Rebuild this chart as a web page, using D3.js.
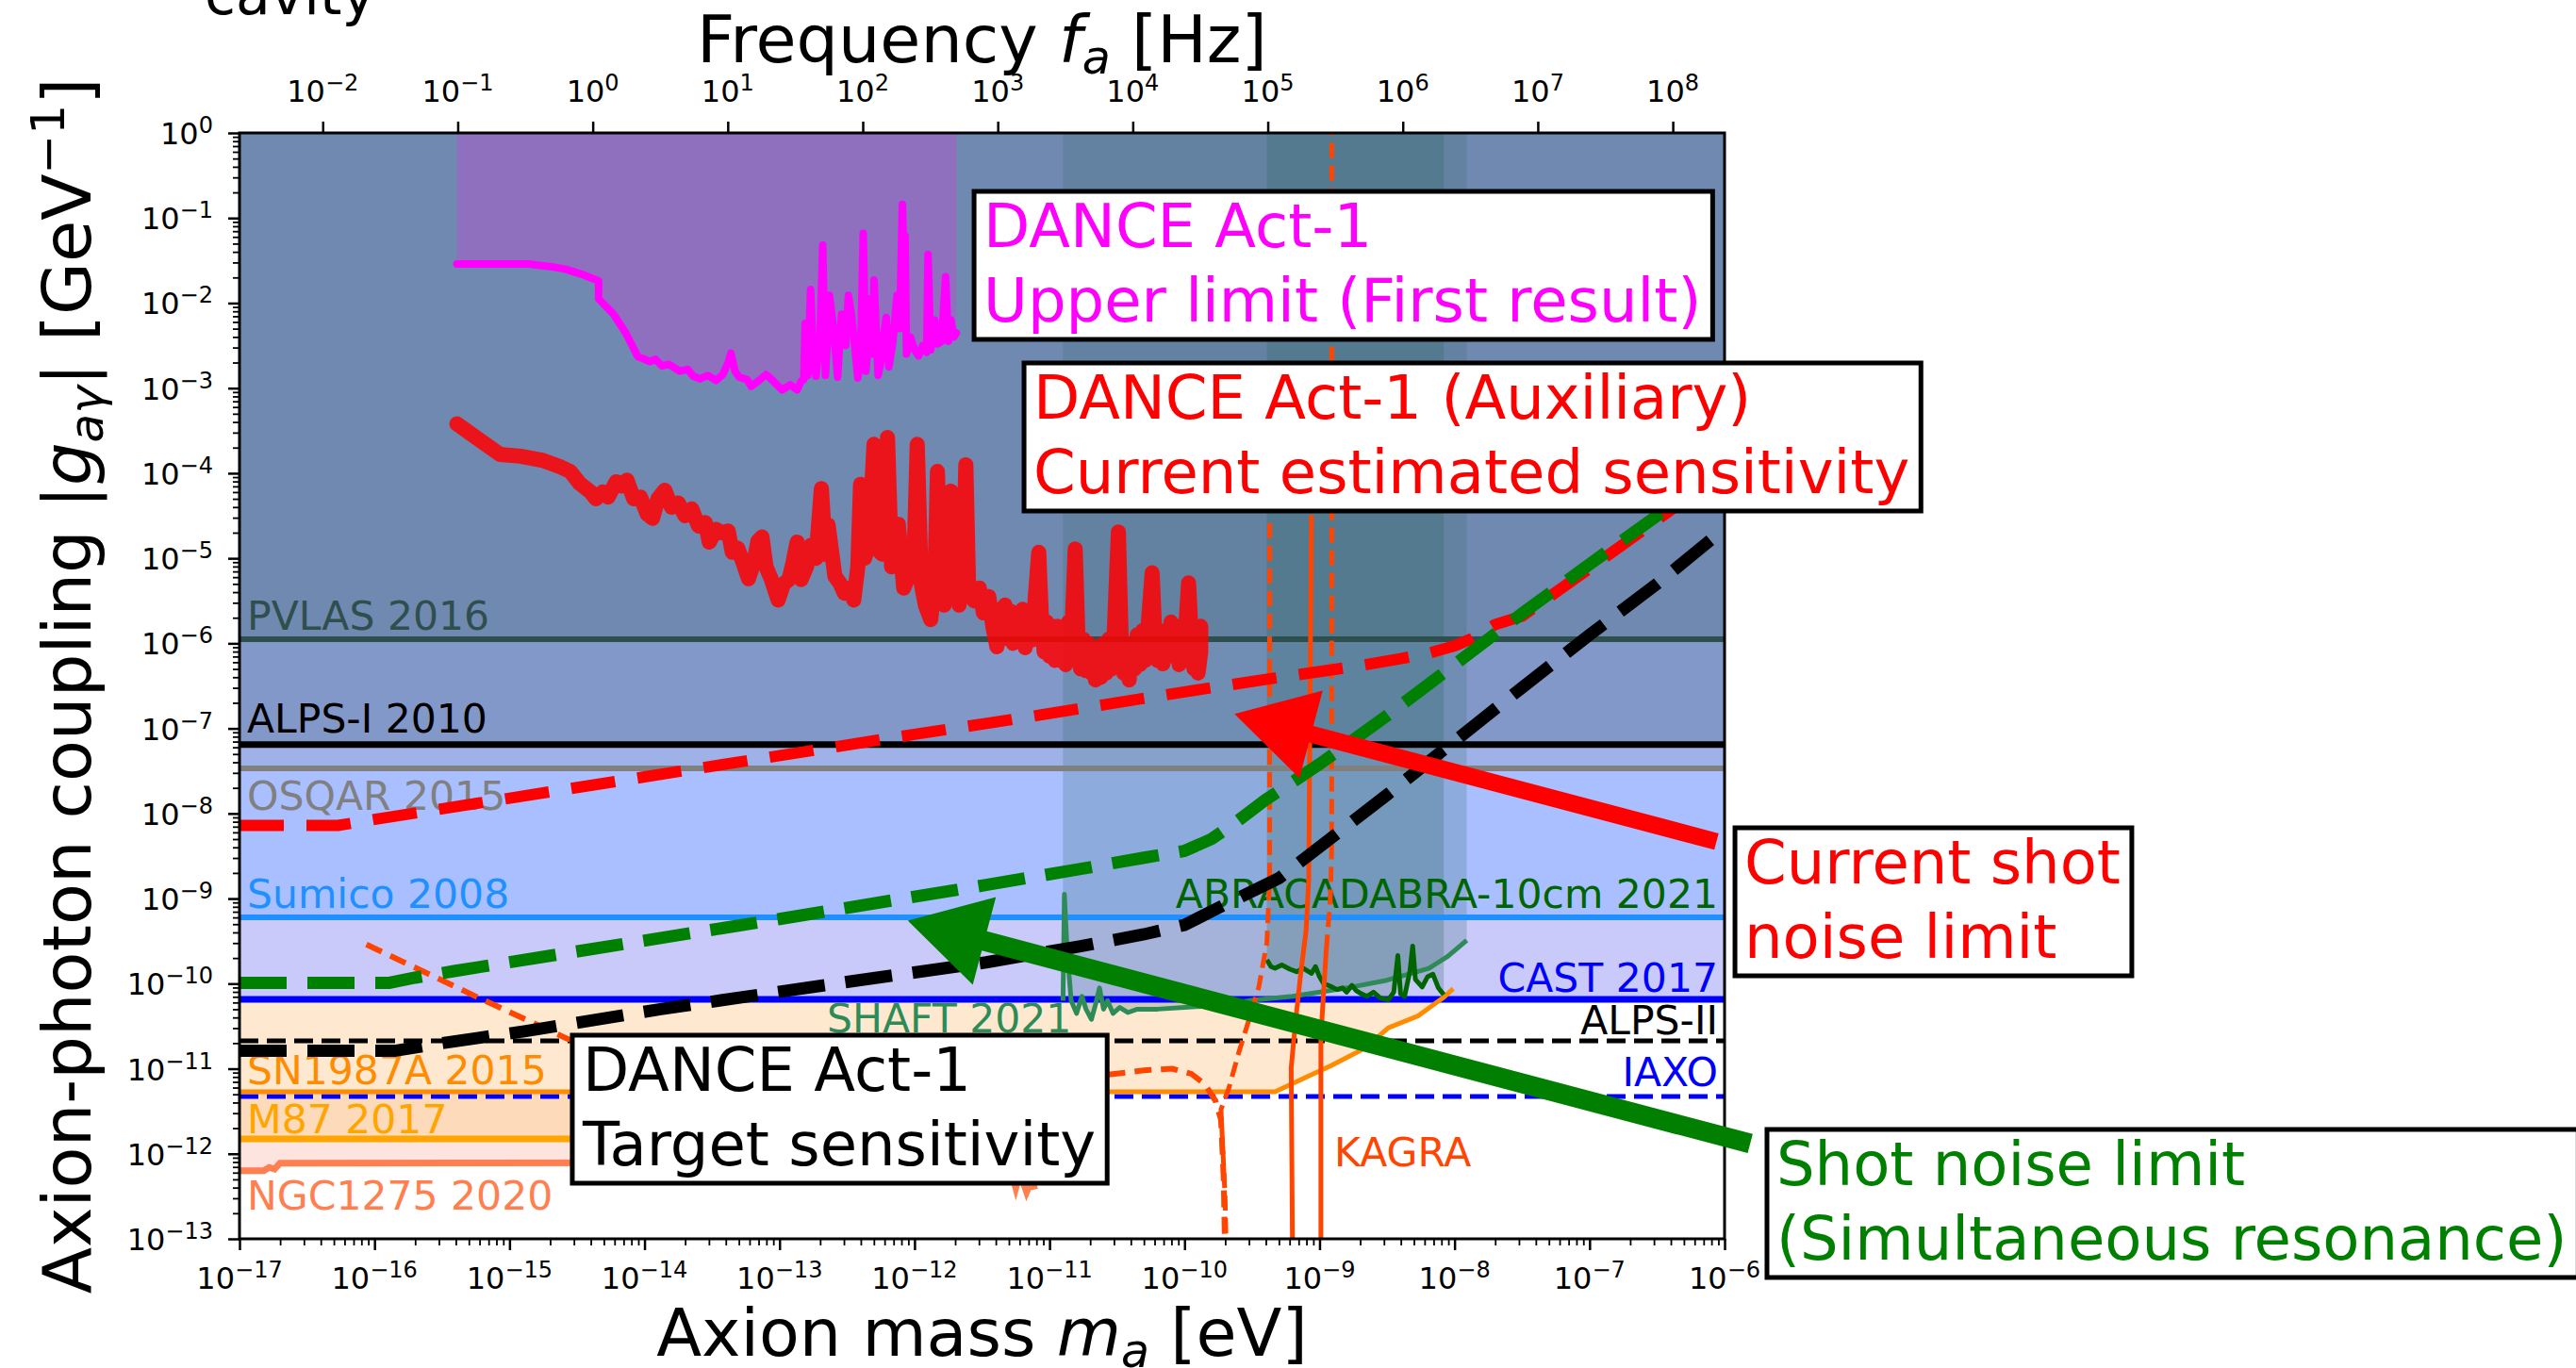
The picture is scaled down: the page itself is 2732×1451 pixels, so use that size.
<!DOCTYPE html>
<html>
<head>
<meta charset="utf-8">
<script src="https://d3js.org/d3.v7.min.js"></script>
<style>
  body { margin: 0; background: #fff; }
  text { font-family: "DejaVu Sans", sans-serif; }
</style>
</head>
<body>
<script>
// ---------- data: every pair is [log10 mass (eV), log10 coupling (GeV^-1)] ----------
var massTickExp = [-17, -16, -15, -14, -13, -12, -11, -10, -9, -8, -7, -6];
var couplingTickExp = [0, -1, -2, -3, -4, -5, -6, -7, -8, -9, -10, -11, -12, -13];
var freqTickExp = [-2, -1, 0, 1, 2, 3, 4, 5, 6, 7, 8];
var log10HzPerEv = 14.3835;

// horizontal limits
var limitNames = ["PVLAS 2016", "ALPS-I 2010", "OSQAR 2015", "Sumico 2008", "CAST 2017", "ALPS-II", "IAXO", "M87 2017"];
var limitValues = [-5.951, -7.19, -7.47, -9.22, -10.185, -10.673, -11.327, -11.825];
var limitMassEnd = [-6, -6, -6, -6, -6, -6, -6, -11.3];

// stacked exclusion bands (top edge .. bottom edge)
var bandEdges = [0, -5.951, -7.19, -7.47, -9.22, -10.185];

var sn1987a = [[-17, -11.27], [-9.33, -11.27], [-9.14, -11.13], [-8.91, -10.96], [-8.69, -10.78], [-8.57, -10.63],
  [-8.49, -10.52], [-8.27, -10.38], [-8.08, -10.16], [-8.01, -10.06]];
var ngc1275 = [[-17, -12.20], [-16.82, -12.20], [-16.78, -12.16], [-16.74, -12.18], [-16.70, -12.11], [-11.30, -12.10],
  [-11.25, -12.40], [-11.22, -12.22], [-11.17, -12.45], [-11.13, -12.30], [-11.11, -12.42]];

var danceUpper = [[-15.39, -1.54], [-15.0, -1.54], [-14.86, -1.54], [-14.70, -1.57], [-14.59, -1.60], [-14.45, -1.67],
  [-14.34, -1.74], [-14.34, -1.95], [-14.23, -2.13], [-14.14, -2.35], [-14.05, -2.63], [-14.00, -2.66], [-13.96, -2.69],
  [-13.92, -2.66], [-13.87, -2.74], [-13.82, -2.72], [-13.74, -2.80], [-13.68, -2.78], [-13.64, -2.86], [-13.59, -2.89],
  [-13.53, -2.85], [-13.47, -2.91], [-13.42, -2.84], [-13.38, -2.70], [-13.36, -2.59], [-13.33, -2.80], [-13.30, -2.87],
  [-13.24, -2.90], [-13.21, -2.98], [-13.16, -2.92], [-13.10, -2.84], [-13.07, -2.88], [-13.02, -2.96], [-12.98, -3.02],
  [-12.92, -2.96], [-12.87, -3.02], [-12.84, -2.92], [-12.82, -2.90], [-12.81, -2.24], [-12.79, -2.85], [-12.77, -1.84],
  [-12.75, -2.60], [-12.73, -2.86], [-12.70, -2.40], [-12.68, -1.32], [-12.66, -2.85], [-12.64, -2.30], [-12.63, -1.91],
  [-12.60, -2.30], [-12.57, -2.87], [-12.54, -2.13], [-12.51, -2.50], [-12.49, -1.91], [-12.47, -2.10], [-12.45, -2.40],
  [-12.42, -2.88], [-12.40, -2.70], [-12.38, -1.18], [-12.36, -2.80], [-12.34, -2.40], [-12.33, -1.95], [-12.31, -2.60],
  [-12.30, -1.73], [-12.27, -2.85], [-12.25, -2.70], [-12.23, -2.40], [-12.21, -2.17], [-12.19, -2.75], [-12.16, -2.45],
  [-12.13, -1.91], [-12.11, -2.30], [-12.09, -0.84], [-12.08, -1.40], [-12.07, -1.21], [-12.06, -2.60], [-12.03, -2.40],
  [-12.00, -2.55], [-11.97, -2.62], [-11.94, -2.50], [-11.91, -2.58], [-11.90, -1.43], [-11.88, -2.55], [-11.85, -2.20],
  [-11.83, -2.48], [-11.80, -2.45], [-11.77, -1.69], [-11.75, -2.45], [-11.73, -2.20], [-11.71, -2.40], [-11.69, -2.35]];

var danceAux = [[-15.39, -3.42], [-15.07, -3.78], [-14.92, -3.80], [-14.75, -3.85], [-14.63, -3.92], [-14.55, -3.98],
  [-14.48, -4.12], [-14.40, -4.22], [-14.36, -4.30], [-14.31, -4.22], [-14.27, -4.28], [-14.21, -4.10], [-14.17, -4.15],
  [-14.13, -4.08], [-14.08, -4.30], [-14.03, -4.28], [-13.98, -4.48], [-13.94, -4.53], [-13.90, -4.30], [-13.85, -4.20],
  [-13.80, -4.40], [-13.75, -4.35], [-13.70, -4.50], [-13.65, -4.42], [-13.60, -4.62], [-13.55, -4.58], [-13.52, -4.81],
  [-13.47, -4.66], [-13.43, -4.70], [-13.38, -4.68], [-13.35, -4.93], [-13.31, -4.88], [-13.27, -5.05], [-13.23, -5.24],
  [-13.19, -5.05], [-13.16, -4.80], [-13.13, -4.75], [-13.10, -5.10], [-13.06, -5.25], [-13.01, -5.49], [-12.97, -5.30],
  [-12.93, -5.25], [-12.90, -5.05], [-12.87, -4.81], [-12.84, -5.25], [-12.80, -5.10], [-12.77, -4.85], [-12.73, -5.00],
  [-12.69, -4.18], [-12.66, -4.95], [-12.64, -4.61], [-12.59, -5.21], [-12.55, -5.30], [-12.52, -5.41], [-12.48, -5.35],
  [-12.45, -5.49], [-12.42, -5.10], [-12.40, -4.13], [-12.37, -5.00], [-12.34, -4.85], [-12.30, -3.66], [-12.27, -4.90],
  [-12.24, -4.95], [-12.20, -3.58], [-12.17, -5.10], [-12.12, -4.60], [-12.08, -5.35], [-12.04, -5.20], [-12.00, -4.80],
  [-11.98, -3.66], [-11.95, -5.30], [-11.92, -5.55], [-11.88, -5.72], [-11.85, -5.30], [-11.83, -3.98], [-11.81, -5.20],
  [-11.78, -5.55], [-11.75, -5.10], [-11.73, -4.21], [-11.70, -5.30], [-11.67, -5.55], [-11.64, -5.20], [-11.62, -3.90],
  [-11.60, -5.30], [-11.56, -5.50], [-11.52, -5.35], [-11.49, -5.64], [-11.45, -5.45], [-11.42, -5.80], [-11.39, -6.04],
  [-11.37, -5.60], [-11.35, -5.95], [-11.33, -5.55], [-11.31, -5.90], [-11.29, -5.62], [-11.27, -6.00], [-11.25, -5.65],
  [-11.22, -5.95], [-11.20, -5.60], [-11.18, -6.05], [-11.15, -5.70], [-11.13, -5.96], [-11.11, -5.55], [-11.08, -4.93],
  [-11.06, -5.70], [-11.04, -6.10], [-11.02, -5.75], [-11.00, -6.15], [-10.98, -5.80], [-10.96, -6.20], [-10.94, -5.80],
  [-10.92, -6.20], [-10.90, -5.85], [-10.88, -6.25], [-10.86, -5.75], [-10.84, -6.10], [-10.81, -4.89], [-10.79, -5.90],
  [-10.77, -6.30], [-10.75, -5.95], [-10.73, -6.32], [-10.71, -6.00], [-10.69, -6.35], [-10.67, -6.05], [-10.66, -6.43],
  [-10.64, -6.05], [-10.62, -6.40], [-10.60, -6.00], [-10.58, -6.35], [-10.56, -5.95], [-10.54, -6.30], [-10.52, -5.85],
  [-10.49, -4.69], [-10.47, -5.90], [-10.45, -6.35], [-10.43, -6.00], [-10.41, -6.43], [-10.39, -6.00], [-10.37, -6.30],
  [-10.35, -5.90], [-10.33, -6.25], [-10.31, -5.85], [-10.29, -6.20], [-10.27, -5.80], [-10.24, -5.17], [-10.22, -5.90],
  [-10.20, -6.20], [-10.18, -5.85], [-10.16, -6.24], [-10.14, -5.85], [-10.12, -6.15], [-10.10, -5.75], [-10.08, -6.10],
  [-10.06, -5.80], [-10.04, -6.25], [-10.02, -5.85], [-10.00, -6.20], [-9.99, -5.80], [-9.97, -5.29], [-9.95, -5.95],
  [-9.93, -6.30], [-9.91, -5.90], [-9.90, -6.35], [-9.88, -6.10], [-9.88, -5.80]];

var shotCurrent = [[-17, -8.14], [-16.27, -8.14], [-16.0, -8.07], [-14, -7.57], [-12, -7.07], [-11.30, -6.90], [-10, -6.57],
  [-9.30, -6.40], [-8.73, -6.27], [-8.40, -6.18], [-8.20, -6.12], [-8.0, -6.03], [-7.88, -5.95], [-7.7, -5.78],
  [-7.5, -5.68], [-7.0, -5.12], [-6.5, -4.55], [-6.2, -4.20]];
var shotSimultaneous = [[-17, -9.99], [-15.89, -9.99], [-15.7, -9.93], [-15.4, -9.85], [-13, -9.24], [-11.47, -8.84],
  [-10.8, -8.66], [-10.3, -8.52], [-10.0, -8.44], [-9.8, -8.30], [-9.6, -8.08], [-9.4, -7.84], [-9.0, -7.42], [-8.5, -6.85],
  [-8.0, -6.25], [-7.5, -5.65], [-7.0, -5.07], [-6.5, -4.50], [-6.2, -4.15]];
var targetSens = [[-17, -10.79], [-15.85, -10.79], [-15.5, -10.70], [-14.89, -10.56], [-13.88, -10.30], [-12.5, -9.98],
  [-11.47, -9.75], [-10.77, -9.56], [-10.3, -9.42], [-10.0, -9.31], [-9.7, -9.07], [-9.3, -8.76], [-8.5, -7.78],
  [-8.0, -7.15], [-7.5, -6.52], [-7.0, -5.90], [-6.5, -5.30], [-6.0, -4.65]];

var shaft = [[-10.90, -10.2], [-10.89, -8.95], [-10.87, -9.6], [-10.84, -10.2], [-10.80, -10.35], [-10.76, -10.15],
  [-10.73, -10.30], [-10.69, -10.42], [-10.66, -10.25], [-10.63, -10.05], [-10.60, -10.30], [-10.57, -10.20],
  [-10.53, -10.35], [-10.48, -10.28], [-10.42, -10.34], [-10.35, -10.30], [-10.2, -10.30], [-10.0, -10.28],
  [-9.8, -10.26], [-9.52, -10.20], [-9.2, -10.15], [-8.76, -10.04], [-8.5, -9.96], [-8.19, -9.82], [-8.05, -9.68], [-7.91, -9.49]];
var abracadabra = [[-9.39, -9.72], [-9.36, -9.80], [-9.33, -9.82], [-9.28, -9.78], [-9.22, -9.83], [-9.17, -9.86],
  [-9.12, -9.82], [-9.06, -9.88], [-9.03, -9.80], [-9.00, -9.92], [-8.97, -10.0], [-8.92, -10.03], [-8.87, -10.07],
  [-8.83, -10.05], [-8.80, -10.10], [-8.76, -10.02], [-8.73, -10.08], [-8.69, -10.12], [-8.65, -10.15], [-8.60, -10.10],
  [-8.55, -10.17], [-8.49, -10.19], [-8.45, -10.10], [-8.42, -9.67], [-8.40, -10.12], [-8.37, -10.15], [-8.33, -9.85],
  [-8.31, -9.56], [-8.29, -9.95], [-8.24, -10.04], [-8.20, -9.92], [-8.16, -9.89], [-8.12, -10.05], [-8.08, -10.13]];

var kagraHump = [[-16.06, -9.54], [-15.25, -10.15], [-14.57, -10.65], [-14.0, -10.85], [-13.0, -11.0], [-12.0, -11.05],
  [-11.2, -11.07], [-10.62, -11.08], [-10.30, -11.02], [-10.09, -11.00], [-9.95, -11.06], [-9.85, -11.18], [-9.77, -11.38],
  [-9.73, -11.6], [-9.71, -12.3], [-9.70, -13.2]];
var kagraWideLeft = [[-9.69, -13.2], [-9.70, -12.5], [-9.73, -11.48], [-9.67, -11.22], [-9.60, -10.82], [-9.52, -10.41],
  [-9.45, -10.04], [-9.39, -9.52], [-9.37, -8.78], [-9.37, -4.55]];
var kagraWideRight = [[-8.95, -9.6], [-8.92, -9.0], [-8.91, -8.4], [-8.91, 0]];
var kagraNarrowLeft = [[-9.20, -13.2], [-9.21, -10.99], [-9.18, -10.48], [-9.14, -9.89], [-9.10, -9.38], [-9.08, -8.78], [-9.06, -4.49]];
var kagraNarrowRight = [[-8.99, -13.2], [-8.99, -10.63], [-8.97, -10.1], [-8.95, -9.6]];

// labels on the plot
var labelTexts = ["PVLAS 2016", "ALPS-I 2010", "OSQAR 2015", "Sumico 2008", "SN1987A 2015", "M87 2017", "NGC1275 2020",
  "SHAFT 2021", "ABRACADABRA-10cm 2021", "CAST 2017", "ALPS-II", "IAXO", "KAGRA"];
var labelAt = [[-16.944, -5.841], [-16.944, -7.049], [-16.944, -7.957], [-16.944, -9.110], [-16.944, -11.183],
  [-16.944, -11.759], [-16.944, -12.657], [-12.649, -10.573], [-6.049, -9.110], [-6.049, -10.096], [-6.049, -10.595],
  [-6.049, -11.205], [-8.891, -12.147]];

// annotation boxes and arrows
var boxLines = [["DANCE Act-1", "Upper limit (First result)"], ["DANCE Act-1 (Auxiliary)", "Current estimated sensitivity"],
  ["DANCE Act-1", "Target sensitivity"], ["Current shot", "noise limit"], ["Shot noise limit", "(Simultaneous resonance)"]];
var boxAt = [[-11.489, -1.341], [-11.119, -3.358], [-14.458, -11.260], [-5.853, -8.822], [-5.616, -12.368]];
var arrowTail = [[-6.06, -8.33], [-5.81, -11.88]];
var arrowTip = [[-9.63, -6.83], [-12.05, -9.26]];

// ---------- styles ----------
var bandColors = ["#7089b0", "#8298c8", "#9eb2e8", "#aabfff", "#c9c9fa"];
var limitStyle = {
  "PVLAS 2016": ["#2f4f4f", 6, null], "ALPS-I 2010": ["#000000", 7, null], "OSQAR 2015": ["#808080", 6, null],
  "Sumico 2008": ["#1e90ff", 6, null], "CAST 2017": ["#0000ff", 7, null], "ALPS-II": ["#000000", 5, "20,9"],
  "IAXO": ["#0000ff", 5, "20,9"], "M87 2017": ["#ffa500", 7, null]
};
var labelColors = ["#2f4f4f", "#000000", "#808080", "#1e90ff", "#ff8c00", "#ffa500", "#ff7f50", "#2e8b57", "#006400",
  "#0000ff", "#000000", "#0000ff", "#ff4500"];
var boxColors = ["#ff00ff", "#ff0000", "#000000", "#ff0000", "#008000"];
var arrowColors = ["#ff0000", "#007f00"];

// ---------- layout ----------
var W = 2732, H = 1451;
var M = { left: 254, right: 1829, top: 141, bottom: 1314 };

var svg = d3.select("body").append("svg").attr("width", W).attr("height", H);
svg.append("rect").attr("width", W).attr("height", H).attr("fill", "#fff");

var x = d3.scaleLog().domain([1e-17, 1e-6]).range([M.left, M.right]);
var y = d3.scaleLog().domain([1e-13, 1]).range([M.bottom, M.top]);
var xf = d3.scaleLog().domain([Math.pow(10, -17 + log10HzPerEv), Math.pow(10, -6 + log10HzPerEv)]).range([M.left, M.right]);

function px(d) { return x(Math.pow(10, d[0])); }
function py(d) { return y(Math.pow(10, d[1])); }
function yv(v) { return y(Math.pow(10, v)); }
var line = d3.line().x(px).y(py);

svg.append("defs").append("clipPath").attr("id", "plotclip")
  .append("rect").attr("x", M.left).attr("y", M.top).attr("width", M.right - M.left).attr("height", M.bottom - M.top);

var plot = svg.append("g").attr("clip-path", "url(#plotclip)");

// bands
bandColors.forEach(function(c, i) {
  plot.append("rect").attr("x", M.left).attr("width", M.right - M.left)
    .attr("y", yv(bandEdges[i])).attr("height", yv(bandEdges[i + 1]) - yv(bandEdges[i])).attr("fill", c);
});

// SN1987A region (between CAST and SN curve)
var castY = yv(limitValues[4]);
plot.append("path").datum(sn1987a)
  .attr("d", d3.area().x(px).y0(function(d) { return Math.max(py(d), castY); }).y1(castY))
  .attr("fill", "#fee9d0");
// M87 region
plot.append("rect").attr("x", px([-17, 0])).attr("width", px([limitMassEnd[7], 0]) - px([-17, 0]))
  .attr("y", yv(sn1987a[0][1])).attr("height", yv(limitValues[7]) - yv(sn1987a[0][1])).attr("fill", "#fddab9");
// NGC1275 region
plot.append("path").datum(ngc1275.slice(0, 6))
  .attr("d", d3.area().x(px).y0(py).y1(yv(limitValues[7])))
  .attr("fill", "#fde4de");

// DANCE upper limit fill
plot.append("path").datum(danceUpper)
  .attr("d", d3.area().x(px).y0(py).y1(M.top)).attr("fill", "#8e70bf");

// SHAFT / ABRACADABRA shaded regions
plot.append("path").datum(shaft)
  .attr("d", d3.area().x(px).y0(py).y1(M.top)).attr("fill", "#3c6e78").attr("fill-opacity", 0.25);
plot.append("path").datum(abracadabra)
  .attr("d", d3.area().x(px).y0(py).y1(M.top)).attr("fill", "#28645a").attr("fill-opacity", 0.25);

// horizontal limit lines
limitNames.forEach(function(n, i) {
  var s = limitStyle[n];
  plot.append("line").attr("x1", px([-17, 0])).attr("x2", px([limitMassEnd[i], 0]))
    .attr("y1", yv(limitValues[i])).attr("y2", yv(limitValues[i]))
    .attr("stroke", s[0]).attr("stroke-width", s[1]).attr("stroke-dasharray", s[2]);
});
plot.append("path").datum(sn1987a).attr("d", line).attr("fill", "none").attr("stroke", "#ff8c00").attr("stroke-width", 5);
plot.append("path").datum(ngc1275).attr("d", line).attr("fill", "none").attr("stroke", "#ff7f50").attr("stroke-width", 7);

// labels
labelTexts.forEach(function(t, i) {
  plot.append("text").attr("x", px(labelAt[i])).attr("y", py(labelAt[i]))
    .attr("text-anchor", labelAt[i][0] > -7 ? "end" : "start")
    .attr("font-size", 42.5).attr("fill", labelColors[i]).text(t);
});

// SHAFT and ABRACADABRA curves
plot.append("path").datum(shaft).attr("d", line).attr("fill", "none").attr("stroke", "#2e8b57").attr("stroke-width", 5).attr("stroke-linejoin", "round");
plot.append("path").datum(abracadabra).attr("d", line).attr("fill", "none").attr("stroke", "#006400").attr("stroke-width", 5).attr("stroke-linejoin", "round");

// KAGRA
var kagraCol = "#ff4500";
plot.append("path").datum(kagraHump).attr("d", line).attr("fill", "none").attr("stroke", kagraCol).attr("stroke-width", 6).attr("stroke-dasharray", "18,10");
plot.append("path").datum(kagraWideLeft).attr("d", line).attr("fill", "none").attr("stroke", kagraCol).attr("stroke-width", 5).attr("stroke-dasharray", "16,8");
plot.append("path").datum(kagraWideRight).attr("d", line).attr("fill", "none").attr("stroke", kagraCol).attr("stroke-width", 5).attr("stroke-dasharray", "16,8");
plot.append("path").datum(kagraNarrowLeft).attr("d", line).attr("fill", "none").attr("stroke", kagraCol).attr("stroke-width", 5);
plot.append("path").datum(kagraNarrowRight).attr("d", line).attr("fill", "none").attr("stroke", kagraCol).attr("stroke-width", 5);

// DANCE curves
plot.append("path").datum(danceUpper).attr("d", line).attr("fill", "none").attr("stroke", "#ff00ff")
  .attr("stroke-width", 8).attr("stroke-linejoin", "round").attr("stroke-linecap", "round");
plot.append("path").datum(danceAux).attr("d", line).attr("fill", "none").attr("stroke", "#ff0000").attr("stroke-opacity", 0.85)
  .attr("stroke-width", 16).attr("stroke-linejoin", "round").attr("stroke-linecap", "round");

// projected sensitivities
plot.append("path").datum(shotCurrent).attr("d", line).attr("fill", "none").attr("stroke", "#ff0000").attr("stroke-width", 12).attr("stroke-dasharray", "47,24");
plot.append("path").datum(shotSimultaneous).attr("d", line).attr("fill", "none").attr("stroke", "#008000").attr("stroke-width", 13).attr("stroke-dasharray", "50,22");
plot.append("path").datum(targetSens).attr("d", line).attr("fill", "none").attr("stroke", "#000000").attr("stroke-width", 13).attr("stroke-dasharray", "50,22");

// ---------- axes ----------
function pow10(e) { return Math.pow(10, e); }
var minorMass = [], minorCoupling = [];
massTickExp.slice(0, -1).forEach(function(e) { for (var k = 2; k < 10; k++) minorMass.push(k * pow10(e)); });
couplingTickExp.slice(1).forEach(function(e) { for (var k = 2; k < 10; k++) minorCoupling.push(k * pow10(e)); });

function styleAxis(g, w) {
  g.select(".domain").remove();
  g.selectAll(".tick line").attr("stroke", "#000").attr("stroke-width", w);
  g.selectAll(".tick text").remove();
}
svg.append("g").attr("transform", "translate(0," + M.bottom + ")")
  .call(d3.axisBottom(x).tickValues(massTickExp.map(pow10)).tickSize(12)).call(styleAxis, 2.5);
svg.append("g").attr("transform", "translate(0," + M.bottom + ")")
  .call(d3.axisBottom(x).tickValues(minorMass).tickSize(7)).call(styleAxis, 1.8);
svg.append("g").attr("transform", "translate(" + M.left + ",0)")
  .call(d3.axisLeft(y).tickValues(couplingTickExp.map(pow10)).tickSize(12)).call(styleAxis, 2.5);
svg.append("g").attr("transform", "translate(" + M.left + ",0)")
  .call(d3.axisLeft(y).tickValues(minorCoupling).tickSize(7)).call(styleAxis, 1.8);
svg.append("g").attr("transform", "translate(0," + M.top + ")")
  .call(d3.axisTop(xf).tickValues(freqTickExp.map(pow10)).tickSize(12)).call(styleAxis, 2.5);

function powText(g, xx, yy, e, anchor) {
  var t = g.append("text").attr("x", xx).attr("y", yy).attr("text-anchor", anchor).attr("font-size", 32);
  t.append("tspan").text("10");
  t.append("tspan").attr("font-size", 24).attr("dy", -12).text(e < 0 ? "\u2212" + (-e) : String(e));
}
var ticksG = svg.append("g");
massTickExp.forEach(function(e) { powText(ticksG, x(pow10(e)), 1367, e, "middle"); });
couplingTickExp.forEach(function(e) { powText(ticksG, 226, y(pow10(e)) + 12, e, "end"); });
freqTickExp.forEach(function(e) { powText(ticksG, xf(pow10(e)), 108, e, "middle"); });

// frame
svg.append("rect").attr("x", M.left).attr("y", M.top).attr("width", M.right - M.left).attr("height", M.bottom - M.top)
  .attr("fill", "none").attr("stroke", "#000").attr("stroke-width", 3);

// axis titles
var cx = (M.left + M.right) / 2;
var tt = svg.append("text").attr("x", cx).attr("y", 66).attr("text-anchor", "middle").attr("font-size", 70);
tt.append("tspan").text("Frequency ");
tt.append("tspan").attr("font-style", "italic").text("f");
tt.append("tspan").attr("font-style", "italic").attr("font-size", 49).attr("dy", 12).text("a");
tt.append("tspan").attr("dy", -12).text(" [Hz]");

var bt = svg.append("text").attr("x", cx).attr("y", 1438).attr("text-anchor", "middle").attr("font-size", 70);
bt.append("tspan").text("Axion mass ");
bt.append("tspan").attr("font-style", "italic").text("m");
bt.append("tspan").attr("font-style", "italic").attr("font-size", 49).attr("dy", 12).text("a");
bt.append("tspan").attr("dy", -12).text(" [eV]");

var lt = svg.append("text").attr("transform", "translate(96," + ((M.top + M.bottom) / 2) + ") rotate(-90)")
  .attr("text-anchor", "middle").attr("font-size", 72);
lt.append("tspan").text("Axion-photon coupling |");
lt.append("tspan").attr("font-style", "italic").text("g");
lt.append("tspan").attr("font-size", 50).attr("font-style", "italic").attr("dy", 13).text("a\u03b3");
lt.append("tspan").attr("dy", -13).text("| [GeV");
lt.append("tspan").attr("font-size", 50).attr("dy", -28).text("\u22121");
lt.append("tspan").attr("dy", 28).text("]");

svg.append("text").attr("x", 217).attr("y", 15).attr("font-size", 60).text("cavity");

// ---------- annotation boxes ----------
var boxes = svg.append("g");
boxLines.forEach(function(lines, i) {
  var g = boxes.append("g");
  var t = g.append("text").attr("x", px(boxAt[i])).attr("y", py(boxAt[i])).attr("font-size", 64).attr("fill", boxColors[i]);
  lines.forEach(function(s, j) {
    t.append("tspan").attr("x", px(boxAt[i])).attr("dy", j ? 79 : 0).text(s);
  });
  var bb = t.node().getBBox();
  g.insert("rect", "text").attr("x", bb.x - 10).attr("y", bb.y).attr("width", bb.width + 22).attr("height", bb.height + 4)
    .attr("fill", "#fff").attr("stroke", "#000").attr("stroke-width", 5);
});

// ---------- arrows ----------
var arrowWidth = [18, 21], headLen = 84, headWidth = 96;
arrowTail.forEach(function(tail, i) {
  var a = [px(tail), py(tail)], b = [px(arrowTip[i]), py(arrowTip[i])];
  var dx = b[0] - a[0], dy = b[1] - a[1], L = Math.sqrt(dx * dx + dy * dy);
  var ux = dx / L, uy = dy / L, nx = -uy, ny = ux;
  var base = [b[0] - ux * headLen, b[1] - uy * headLen];
  var w = arrowWidth[i] / 2, hw = headWidth / 2;
  var pts = [
    [a[0] + nx * w, a[1] + ny * w], [base[0] + nx * w, base[1] + ny * w], [base[0] + nx * hw, base[1] + ny * hw], b,
    [base[0] - nx * hw, base[1] - ny * hw], [base[0] - nx * w, base[1] - ny * w], [a[0] - nx * w, a[1] - ny * w]
  ];
  svg.append("polygon").attr("points", pts.map(function(p) { return p.join(","); }).join(" ")).attr("fill", arrowColors[i]);
});
</script>
</body>
</html>
